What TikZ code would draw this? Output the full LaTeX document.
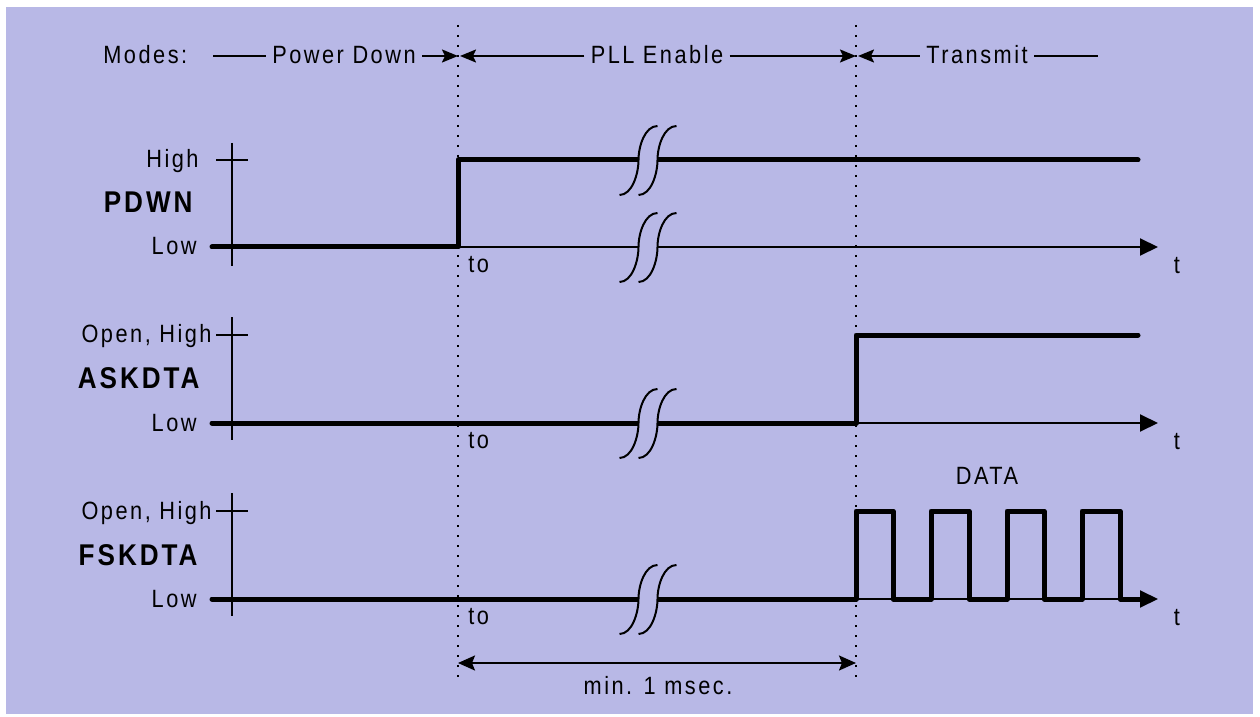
\documentclass[tikz,border=0pt]{standalone}
\usepackage{fontspec}
\setmainfont{Liberation Sans}[FakeStretch=0.87,LetterSpace=10]
\usetikzlibrary{arrows.meta}
\definecolor{bgc}{RGB}{184,184,230}
\tikzset{
  sig/.style={line width=2.5pt, line cap=round, line join=round},
  thin/.style={line width=1pt},
  axarrow/.style={line width=1pt, -{Triangle[length=9pt,width=8.5pt]}},
  vdot/.style={line width=1.1pt, dash pattern=on 1pt off 4pt},
  lbl/.style={font=\fontsize{12.5}{14}\selectfont, inner sep=0pt},
  sname/.style={font=\fontsize{15}{17}\selectfont\bfseries, inner sep=0pt},
  modetxt/.style={font=\fontsize{12.5}{14}\selectfont, inner ysep=0pt, inner xsep=3pt},
  mline/.style={line width=1pt},
  marr/.style={line width=1pt, -{Stealth[length=8pt,width=6.5pt,inset=1.5pt]}},
  dimarr/.style={line width=1pt, {Stealth[length=8.5pt,width=7.5pt,inset=1.5pt]}-{Stealth[length=8.5pt,width=7.5pt,inset=1.5pt]}},
  brk/.pic={
    \fill[bgc] (-10,-4) rectangle (10,4);
    \draw[line width=1pt] (-28.5,35) .. controls (-16,35) and (-9.5,14) .. (-9.5,0) .. controls (-9.5,-14) and (-3,-34) .. (9.5,-34);
    \draw[line width=1pt] (-9.5,35) .. controls (3,35) and (9.5,14) .. (9.5,0) .. controls (9.5,-14) and (16,-34) .. (28.5,-34);
  }
}
\begin{document}
\begin{tikzpicture}[x=0.5pt,y=-0.5pt]
\useasboundingbox (0,0) rectangle (1260,717);
\fill[white] (0,0) rectangle (1260,717);
\fill[bgc] (6,7) rectangle (1253,714);

% dotted vertical markers
\coordinate (d1t) at (458,25); \coordinate (d1b) at (458,682);
\coordinate (d2t) at (856,25); \coordinate (d2b) at (856,682);
\draw[vdot] (d1t) -- (d1b);
\draw[vdot] (d2t) -- (d2b);

% Modes row
\node[lbl, anchor=base west] (modes) at (103,64) {Modes:};
\node[modetxt, anchor=base] (pd) at (344,64) {Power Down};
\node[modetxt, anchor=base] (pll) at (657,64) {PLL Enable};
\node[modetxt, anchor=base] (tx) at (977,64) {Transmit};
\coordinate (m0) at (213,56);
\coordinate (m1) at (458,56);
\coordinate (m2) at (460,56);
\coordinate (m3) at (856,56);
\coordinate (m4) at (858,56);
\coordinate (m5) at (1098,56);
\draw[mline] (m0) -- (m0 -| pd.west);
\draw[marr] (m1 -| pd.east) -- (m1);
\draw[marr] (m2 -| pll.west) -- (m2);
\draw[marr] (m3 -| pll.east) -- (m3);
\draw[marr] (m4 -| tx.west) -- (m4);
\draw[mline] (m5 -| tx.east) -- (m5);

% ---------- PDWN ----------
\node[lbl, anchor=base east] (h1) at (199,168) {High};
\node[lbl, anchor=base east] (l1) at (197,255) {Low};
\node[sname, anchor=base east] (n1) at (193,213) {PDWN};
\coordinate (v1t) at (232,143); \coordinate (v1b) at (232,266);
\draw[thin] (v1t) -- (v1b);
\coordinate (t1a) at (216,160); \coordinate (t1b) at (248,160);
\draw[thin] (t1a) -- (t1b);
\coordinate (ax1s) at (232,247); \coordinate (ax1e) at (1158,247);
\draw[axarrow] (ax1s) -- (ax1e);
\coordinate (p1a) at (212,247); \coordinate (p1b) at (458,247);
\coordinate (p1c) at (458,160); \coordinate (p1d) at (1138,160);
\draw[sig] (p1a) -- (p1b) -- (p1c) -- (p1d);
\pic at (648,160) {brk};
\pic at (648,247) {brk};
\node[lbl, anchor=base west] (to1) at (468,272) {to};
\node[lbl, anchor=base] (tt1) at (1177,273) {t};

% ---------- ASKDTA ----------
\node[lbl, anchor=base east] (h2) at (212,343) {Open, High};
\node[lbl, anchor=base east] (l2) at (197,431) {Low};
\node[sname, anchor=base east] (n2) at (200,388) {ASKDTA};
\coordinate (v2t) at (232,317); \coordinate (v2b) at (232,440);
\draw[thin] (v2t) -- (v2b);
\coordinate (t2a) at (216,335); \coordinate (t2b) at (248,335);
\draw[thin] (t2a) -- (t2b);
\coordinate (ax2s) at (232,423); \coordinate (ax2e) at (1158,423);
\draw[axarrow] (ax2s) -- (ax2e);
\coordinate (p2a) at (212,423); \coordinate (p2b) at (856,423);
\coordinate (p2c) at (856,335); \coordinate (p2d) at (1138,335);
\draw[sig] (p2a) -- (p2b) -- (p2c) -- (p2d);
\pic at (648,423) {brk};
\node[lbl, anchor=base west] (to2) at (468,448) {to};
\node[lbl, anchor=base] (tt2) at (1177,449) {t};

% ---------- FSKDTA ----------
\node[lbl, anchor=base east] (h3) at (212,519) {Open, High};
\node[lbl, anchor=base east] (l3) at (197,607) {Low};
\node[sname, anchor=base east] (n3) at (198,565) {FSKDTA};
\coordinate (v3t) at (232,493); \coordinate (v3b) at (232,616);
\draw[thin] (v3t) -- (v3b);
\coordinate (t3a) at (216,511); \coordinate (t3b) at (248,511);
\draw[thin] (t3a) -- (t3b);
\coordinate (ax3s) at (232,599); \coordinate (ax3e) at (1158,599);
\draw[axarrow] (ax3s) -- (ax3e);
\draw[sig] (212,599) -- (856,599) -- (856,511) -- (893,511) -- (893,599) -- (931,599)
  -- (931,511) -- (969,511) -- (969,599) -- (1007,599) -- (1007,511) -- (1044,511)
  -- (1044,599) -- (1082,599) -- (1082,511) -- (1120,511) -- (1120,599) -- (1140,599);
\pic at (648,599) {brk};
\node[lbl, anchor=base west] (to3) at (468,624) {to};
\node[lbl, anchor=base] (tt3) at (1177,625) {t};
\node[lbl, anchor=base] (data) at (987,484) {DATA};

% duration
\coordinate (ds) at (458,663); \coordinate (de) at (856,663);
\draw[dimarr] (ds) -- (de);
\node[lbl, anchor=base] (dur) at (658,694) {min. 1 msec.};
\end{tikzpicture}
\end{document}
